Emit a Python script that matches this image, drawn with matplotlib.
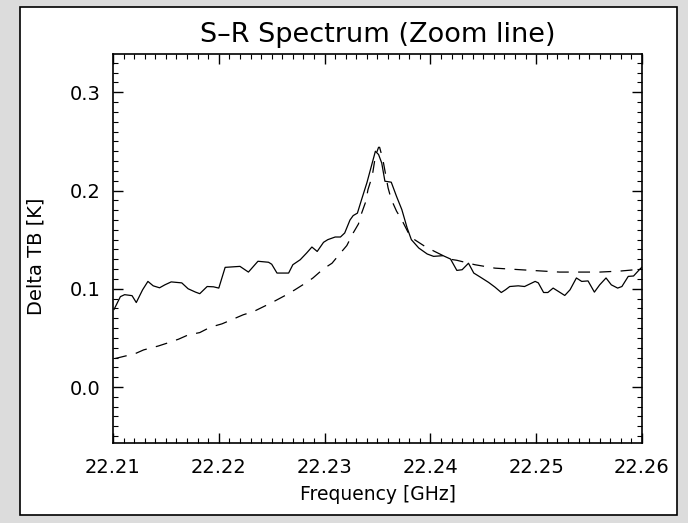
import matplotlib
matplotlib.use("Agg")
import matplotlib.pyplot as plt
from matplotlib.patches import Rectangle
from matplotlib.ticker import MultipleLocator

# ============================
# Measured spectrum (solid)
# ============================
freq_obs = [
    22.2101, 22.2107, 22.2111, 22.2118, 22.2122, 22.2128, 22.2133, 22.2138,
    22.2144, 22.2149, 22.2155, 22.2165, 22.2171, 22.2178, 22.2182, 22.2189,
    22.2195, 22.2200, 22.2206, 22.2220, 22.2228, 22.2237, 22.2247, 22.2250,
    22.2255, 22.2266, 22.2270, 22.2277, 22.2283, 22.2288, 22.2293, 22.2299,
    22.2303, 22.2310, 22.2315, 22.2319, 22.2324, 22.2327, 22.2331, 22.2335,
    22.2340, 22.2345, 22.2348, 22.2351, 22.2354, 22.2357, 22.2363, 22.2368,
    22.2373, 22.2378, 22.2382, 22.2389, 22.2397, 22.2403, 22.2412, 22.2419,
    22.2425, 22.2430, 22.2436, 22.2441, 22.2447, 22.2455, 22.2461, 22.2467,
    22.2471, 22.2475, 22.2483, 22.2489, 22.2499, 22.2502, 22.2507, 22.2511,
    22.2516, 22.2521, 22.2527, 22.2532, 22.2538, 22.2543, 22.2549, 22.2555,
    22.2560, 22.2566, 22.2571, 22.2577, 22.2581, 22.2587, 22.2592, 22.2598,
    22.2600,
]
tb_obs = [
    0.079, 0.092, 0.094, 0.093, 0.086, 0.099, 0.1075, 0.103,
    0.101, 0.104, 0.107, 0.106, 0.100, 0.0966, 0.095, 0.1023,
    0.102, 0.1007, 0.1218, 0.1228, 0.117, 0.128, 0.127, 0.125,
    0.116, 0.116, 0.1245, 0.1296, 0.1364, 0.1425, 0.138, 0.1473,
    0.150, 0.1527, 0.1527, 0.1568, 0.170, 0.1745, 0.177, 0.191,
    0.208, 0.228, 0.240, 0.2367, 0.228, 0.2095, 0.2085, 0.194,
    0.1806, 0.162, 0.150, 0.1415, 0.1354, 0.133, 0.1337, 0.1303,
    0.1187, 0.1194, 0.126, 0.116, 0.112, 0.1065, 0.1017, 0.0962,
    0.099, 0.1023, 0.103, 0.1023, 0.1075, 0.106, 0.0962, 0.0962,
    0.1007, 0.0973, 0.0932, 0.099, 0.111, 0.1075, 0.108, 0.0966,
    0.104, 0.111, 0.104, 0.1007, 0.1023, 0.1126, 0.113, 0.120,
    0.122,
]

# ============================
# Model line (dashed)
# ============================
freq_fit = [
    22.2102, 22.2121, 22.2129, 22.2143, 22.2151, 22.2162, 22.2171, 22.2182,
    22.2192, 22.2203, 22.2212, 22.2223, 22.2233, 22.2244, 22.2252, 22.2264,
    22.2272, 22.2283, 22.2289, 22.2299, 22.2307, 22.2315, 22.2321, 22.2327,
    22.2332, 22.2335, 22.2339, 22.2341, 22.2345, 22.2348, 22.2351, 22.2352,
    22.2355, 22.2360, 22.2363, 22.2368, 22.2373, 22.2381, 22.2385, 22.2395,
    22.2404, 22.2419, 22.2425, 22.2442, 22.2461, 22.2485, 22.2522, 22.2560,
    22.2579, 22.2600,
]
tb_fit = [
    0.029, 0.034, 0.0378, 0.0418, 0.0446, 0.0487, 0.053, 0.0554,
    0.0609, 0.0643, 0.0684, 0.0735, 0.0769, 0.0827, 0.087, 0.0939,
    0.099, 0.1065, 0.111, 0.1204, 0.126, 0.1364, 0.144, 0.1568,
    0.166, 0.177, 0.189, 0.201, 0.2146, 0.235, 0.244, 0.244,
    0.232, 0.2027, 0.191, 0.179, 0.170, 0.153, 0.150, 0.143,
    0.138, 0.130, 0.129, 0.1245, 0.121, 0.1194, 0.117, 0.117,
    0.118, 0.120,
]

x_ticks = [22.21, 22.22, 22.23, 22.24, 22.25, 22.26]
y_ticks = [0.0, 0.1, 0.2, 0.3]

W, H = 688, 523
fig = plt.figure(figsize=(W / 100, H / 100), dpi=100, facecolor="#dcdcdc")

# white panel with black frame (behind the axes)
fig.patches.append(Rectangle((20 / W, 1 - 515 / H), (677 - 20) / W, (515 - 7) / H,
                             transform=fig.transFigure, facecolor="white",
                             edgecolor="black", linewidth=1.2, zorder=-10))

ax = fig.add_axes([113 / W, 1 - 443 / H, (642 - 113) / W, (443 - 54) / H])
ax.set_zorder(5)
ax.set_facecolor("white")

ax.plot(freq_obs, tb_obs, color="black", lw=0.9)
ax.plot(freq_fit, tb_fit, color="black", lw=0.9, dashes=(9.5, 7.5))

ax.set_xlim(22.21, 22.26)
ax.set_ylim(-0.057, 0.339)
ax.set_xticks(x_ticks)
ax.set_xticklabels(["%.2f" % v for v in x_ticks])
ax.set_yticks(y_ticks)
ax.set_yticklabels(["%.1f" % v for v in y_ticks])
ax.xaxis.set_minor_locator(MultipleLocator(0.001))
ax.yaxis.set_minor_locator(MultipleLocator(0.01))

ax.tick_params(which="both", direction="in", top=True, right=True, colors="black", labelsize=14)
ax.tick_params(axis="x", which="major", length=7, width=1.0, pad=11)
ax.tick_params(axis="x", which="minor", length=3.5, width=0.8)
ax.tick_params(axis="y", which="major", length=7, width=1.0, pad=9)
ax.tick_params(axis="y", which="minor", length=3.6, width=0.8)
for s in ax.spines.values():
    s.set_linewidth(1.2)

fig.text(377.5 / W, 1 - 42 / H, "S–R Spectrum (Zoom line)", ha="center", va="baseline", fontsize=19.5)
fig.text(377.5 / W, 1 - 500 / H, "Frequency [GHz]", ha="center", va="baseline", fontsize=13.5)
fig.text(36 / W, 1 - 256 / H, "Delta TB [K]", ha="center", va="center", rotation=90, fontsize=14)

fig.savefig("out.png", dpi=100, facecolor=fig.get_facecolor())
